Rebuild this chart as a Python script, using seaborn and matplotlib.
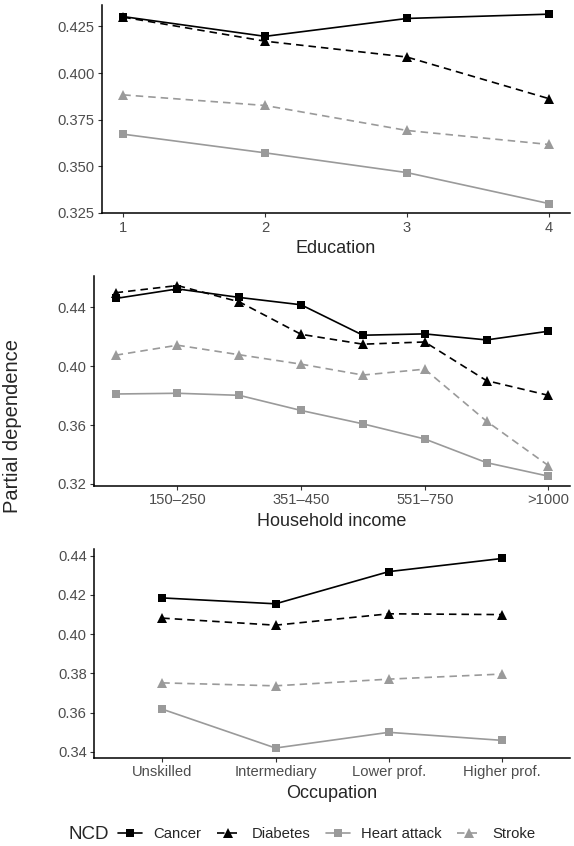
import pandas as pd
import numpy as np
import matplotlib
matplotlib.use("Agg")
import matplotlib.pyplot as plt
import seaborn as sns

# --- DATA ---
ncd_levels = ['Cancer', 'Diabetes', 'Heart attack', 'Stroke']

education = [1, 2, 3, 4]
edu_cancer = [0.4303, 0.4197, 0.4293, 0.4316]
edu_diabetes = [0.4300, 0.4171, 0.4086, 0.3863]
edu_heart = [0.3672, 0.3572, 0.3466, 0.3300]
edu_stroke = [0.3883, 0.3826, 0.3692, 0.3617]

income = ['<150', '150–250', '251–350', '351–450', '451–550', '551–750', '751–1000', '>1000']
inc_cancer = [0.4461, 0.4526, 0.4468, 0.4418, 0.4211, 0.4220, 0.4179, 0.4238]
inc_diabetes = [0.4500, 0.4549, 0.4438, 0.4217, 0.4150, 0.4165, 0.3902, 0.3802]
inc_heart = [0.3811, 0.3816, 0.3802, 0.3699, 0.3608, 0.3505, 0.3344, 0.3252]
inc_stroke = [0.4075, 0.4143, 0.4078, 0.4014, 0.3940, 0.3980, 0.3626, 0.3324]

occupation = ['Unskilled', 'Intermediary', 'Lower prof.', 'Higher prof.']
occ_cancer = [0.4185, 0.4155, 0.4319, 0.4386]
occ_diabetes = [0.4082, 0.4046, 0.4104, 0.4100]
occ_heart = [0.3618, 0.3420, 0.3500, 0.3459]
occ_stroke = [0.3752, 0.3737, 0.3771, 0.3797]

# --- STYLE ---
sns.set_style('white')
plt.rcParams['font.family'] = ['Liberation Sans', 'DejaVu Sans']

W, H = 574, 846
palette = {'Cancer': 'black', 'Diabetes': 'black', 'Heart attack': '#9a9a9a', 'Stroke': '#9a9a9a'}
dashes = {'Cancer': '', 'Diabetes': (4.5, 3), 'Heart attack': '', 'Stroke': (4.5, 3)}
markers = {'Cancer': 's', 'Diabetes': '^', 'Heart attack': 's', 'Stroke': '^'}


def long_df(x, series):
    rows = []
    for name, vals in zip(ncd_levels, series):
        for xi, v in zip(x, vals):
            rows.append({'x': xi, 'pd': v, 'NCD': name})
    return pd.DataFrame(rows)


def px_axes(left, top, right, bottom):
    return fig.add_axes([left / W, 1 - bottom / H, (right - left) / W, (bottom - top) / H])


def bump_triangles(lines):
    # ggplot's filled triangles read a bit larger than the squares
    for ln in lines:
        if ln.get_marker() == '^':
            ln.set_markersize(7.8)


def draw(ax, df):
    sns.lineplot(data=df, x='x', y='pd', hue='NCD', style='NCD', hue_order=ncd_levels,
                 style_order=ncd_levels, palette=palette, dashes=dashes, markers=markers,
                 markersize=6.3, markeredgewidth=0, linewidth=1.2, ax=ax)
    bump_triangles(ax.lines)
    for side in ['top', 'right']:
        ax.spines[side].set_visible(False)
    for side in ['left', 'bottom']:
        ax.spines[side].set_color('black')
        ax.spines[side].set_linewidth(1.1)
    ax.tick_params(axis='both', length=3, width=0.8, color='#333333', labelcolor='#4d4d4d',
                   labelsize=10.6, pad=2.5, left=True, bottom=True)
    ax.set_ylabel('')
    ax.grid(False)
    ax.get_legend().remove()


fig = plt.figure(figsize=(W / 100, H / 100), dpi=100)

# Education
ax1 = px_axes(102, 4.7, 570, 213)
draw(ax1, long_df(education, [edu_cancer, edu_diabetes, edu_heart, edu_stroke]))
ax1.set_xticks(education)
ax1.set_yticks(np.arange(0.325, 0.4251, 0.025))
ax1.yaxis.set_major_formatter(matplotlib.ticker.FormatStrFormatter('%.3f'))
ax1.set_xlabel('Education', fontsize=13, labelpad=4)

# Household income
ax2 = px_axes(94, 276, 570, 485.7)
draw(ax2, long_df(range(len(income)), [inc_cancer, inc_diabetes, inc_heart, inc_stroke]))
ax2.set_xticks(range(1, len(income), 2))
ax2.set_xticklabels(income[1::2])
ax2.set_yticks(np.arange(0.32, 0.441, 0.04))
ax2.yaxis.set_major_formatter(matplotlib.ticker.FormatStrFormatter('%.2f'))
ax2.set_xlabel('Household income', fontsize=13, labelpad=4)

# Occupation
ax3 = px_axes(94.3, 549, 570, 757.5)
draw(ax3, long_df(range(len(occupation)), [occ_cancer, occ_diabetes, occ_heart, occ_stroke]))
ax3.set_xticks(range(len(occupation)))
ax3.set_xticklabels(occupation)
ax3.set_xlim(-0.6, len(occupation) - 0.4)
ax3.set_yticks(np.arange(0.34, 0.441, 0.02))
ax3.yaxis.set_major_formatter(matplotlib.ticker.FormatStrFormatter('%.2f'))
ax3.set_xlabel('Occupation', fontsize=13, labelpad=4)

fig.text(13 / W, 1 - 426 / H, 'Partial dependence', rotation=90, fontsize=14.5,
         ha='center', va='center')

# Legend along the bottom
handles, labels = ax1.get_legend_handles_labels()
if not handles:
    handles = ax1.lines[:4]
    labels = ncd_levels
handles, labels = handles[-4:], labels[-4:]
fig.text(68 / W, 1 - 834 / H, 'NCD', fontsize=13.5, ha='left', va='center')
leg = fig.legend(handles, labels, loc='center left', bbox_to_anchor=(118 / W, 1 - 834 / H),
                 ncol=4, frameon=False, fontsize=10.7, handlelength=1.6, handletextpad=0.8,
                 columnspacing=1.0, borderaxespad=0, borderpad=0)
bump_triangles(leg.get_lines())

fig.savefig('out.png', dpi=100)
